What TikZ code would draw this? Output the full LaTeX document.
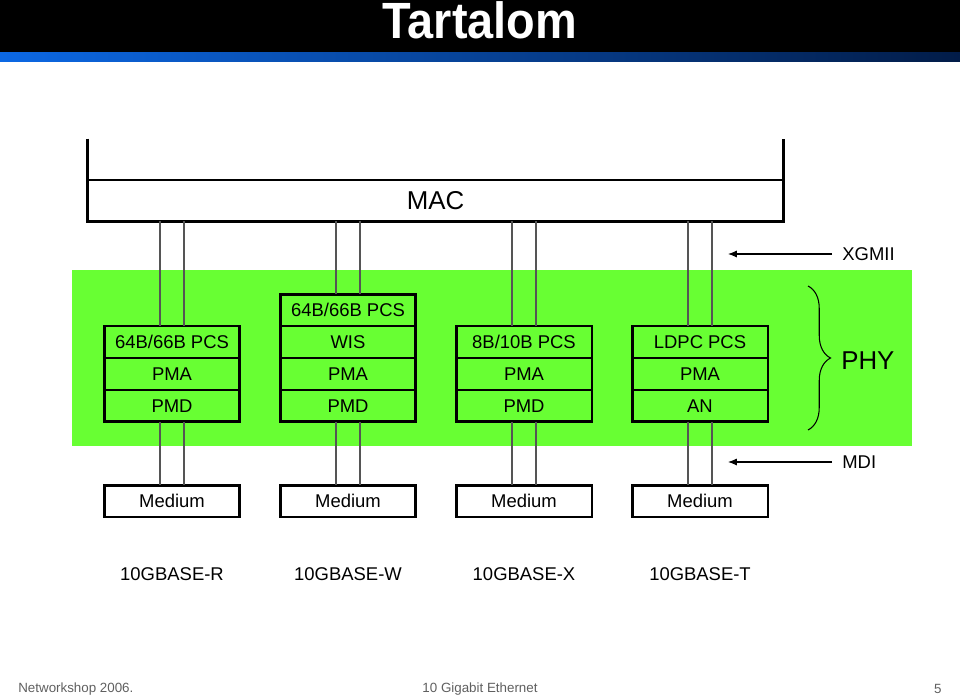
\documentclass[tikz,border=0pt]{standalone}
\usepackage{fontspec}
\setmainfont{Liberation Sans}
\usetikzlibrary{positioning,arrows.meta,decorations.pathreplacing}

\definecolor{phygreen}{RGB}{104,255,51}
\definecolor{linkgray}{RGB}{85,85,85}
\definecolor{footgray}{RGB}{95,95,95}
\definecolor{barblue}{RGB}{12,104,228}
\definecolor{barnavy}{RGB}{2,28,72}

\tikzset{
  cell/.style={draw,line width=0.8pt,minimum width=2.72cm,minimum height=0.64cm,
    inner sep=0pt,outer sep=0pt,font=\fontsize{10.5}{12}\selectfont},
  medium/.style={cell,fill=white,line width=1.7pt},
  outline/.style={line width=1.7pt},
  link/.style={linkgray,line width=1.1pt},
  lbl/.style={font=\fontsize{10.5}{12}\selectfont},
  arr/.style={-{Latex[length=5pt,width=4pt]},line width=0.6pt},
  foot/.style={footgray,font=\fontsize{7.6}{9}\selectfont}
}

\begin{document}
\begin{tikzpicture}[x=0.02cm,y=-0.02cm]
  \useasboundingbox (0,0) rectangle (960,696);

  % title bar
  \fill[black] (0,0) rectangle (960,53);
  \shade[left color=barblue,middle color=barblue!80!barnavy,right color=barnavy] (0,53) rectangle (960,62);
  \node[white,font=\bfseries\fontsize{29}{30}\selectfont,xscale=0.92] (title) at (480,20) {Tartalom};

  % PHY area
  \fill[phygreen] (72,270) rectangle (912,446);

  % MAC
  \node[minimum width=13.9cm,minimum height=0.82cm,inner sep=0pt,font=\fontsize{14.7}{16}\selectfont] (mac) at (435.5,200.5) {MAC};
  \draw[line width=1pt] (mac.north west) -- (mac.north east);
  \draw[outline] ([yshift=0.82cm]mac.north west) -- (mac.south west) -- (mac.south east) -- ([yshift=0.82cm]mac.north east);

  % sublayer stacks
  \foreach \n/\x/\a/\b/\c/\m in {1/172/{64B/66B PCS}/PMA/PMD/R, 2/348/WIS/PMA/PMD/W,
                                3/524/{8B/10B PCS}/PMA/PMD/X, 4/700/LDPC PCS/PMA/AN/T} {
    \node[cell] (up\n) at (\x,342) {\a};
    \node[cell,below=0pt of up\n] (mid\n) {\b};
    \node[cell,below=0pt of mid\n] (low\n) {\c};
    \draw[outline] (up\n.north west) rectangle (low\n.south east);
    \node[medium] (med\n) at (\x,501) {Medium};
    \node[lbl] (base\n) at (\x,574) {10GBASE-\m};
  }
  \node[cell,above=0pt of up2] (pcs2) {64B/66B PCS};
  \draw[outline] (pcs2.north west) rectangle (low2.south east);

  % links
  \foreach \n/\t in {1/up1,2/pcs2,3/up3,4/up4} {
    \foreach \s in {-0.24cm,0.24cm} {
      \draw[link] ([xshift=\s]\t.north) -- ([xshift=\s]\t.north |- mac.south);
      \draw[link] ([xshift=\s]low\n.south) -- ([xshift=\s]med\n.north);
    }
  }

  % interfaces
  \node[lbl,anchor=west,inner xsep=0.2cm,inner ysep=0pt] (xgmii) at (832,254) {XGMII};
  \coordinate (xgmiiend) at (728,254);
  \draw[arr] (xgmii.west) -- (xgmiiend);
  \node[lbl,anchor=west,inner xsep=0.2cm,inner ysep=0pt] (mdi) at (832,462) {MDI};
  \coordinate (mdiend) at (728,462);
  \draw[arr] (mdi.west) -- (mdiend);

  % PHY brace
  \coordinate (brtop) at (808,286);
  \coordinate (brbot) at (808,430);
  \draw[line width=0.6pt,decorate,decoration={brace,amplitude=0.45cm}] (brtop) -- (brbot);
  \node[anchor=west,inner sep=0pt,font=\fontsize{14.7}{16}\selectfont] (phy) at (841,361) {PHY};

  % footer
  \node[foot,anchor=west,inner sep=0pt] (fleft) at (18,689) {Networkshop 2006.};
  \node[foot,inner sep=0pt] (fmid) at (480,689) {10 Gigabit Ethernet};
  \node[foot,anchor=east,inner sep=0pt] (fright) at (942,689) {5};
\end{tikzpicture}
\end{document}
